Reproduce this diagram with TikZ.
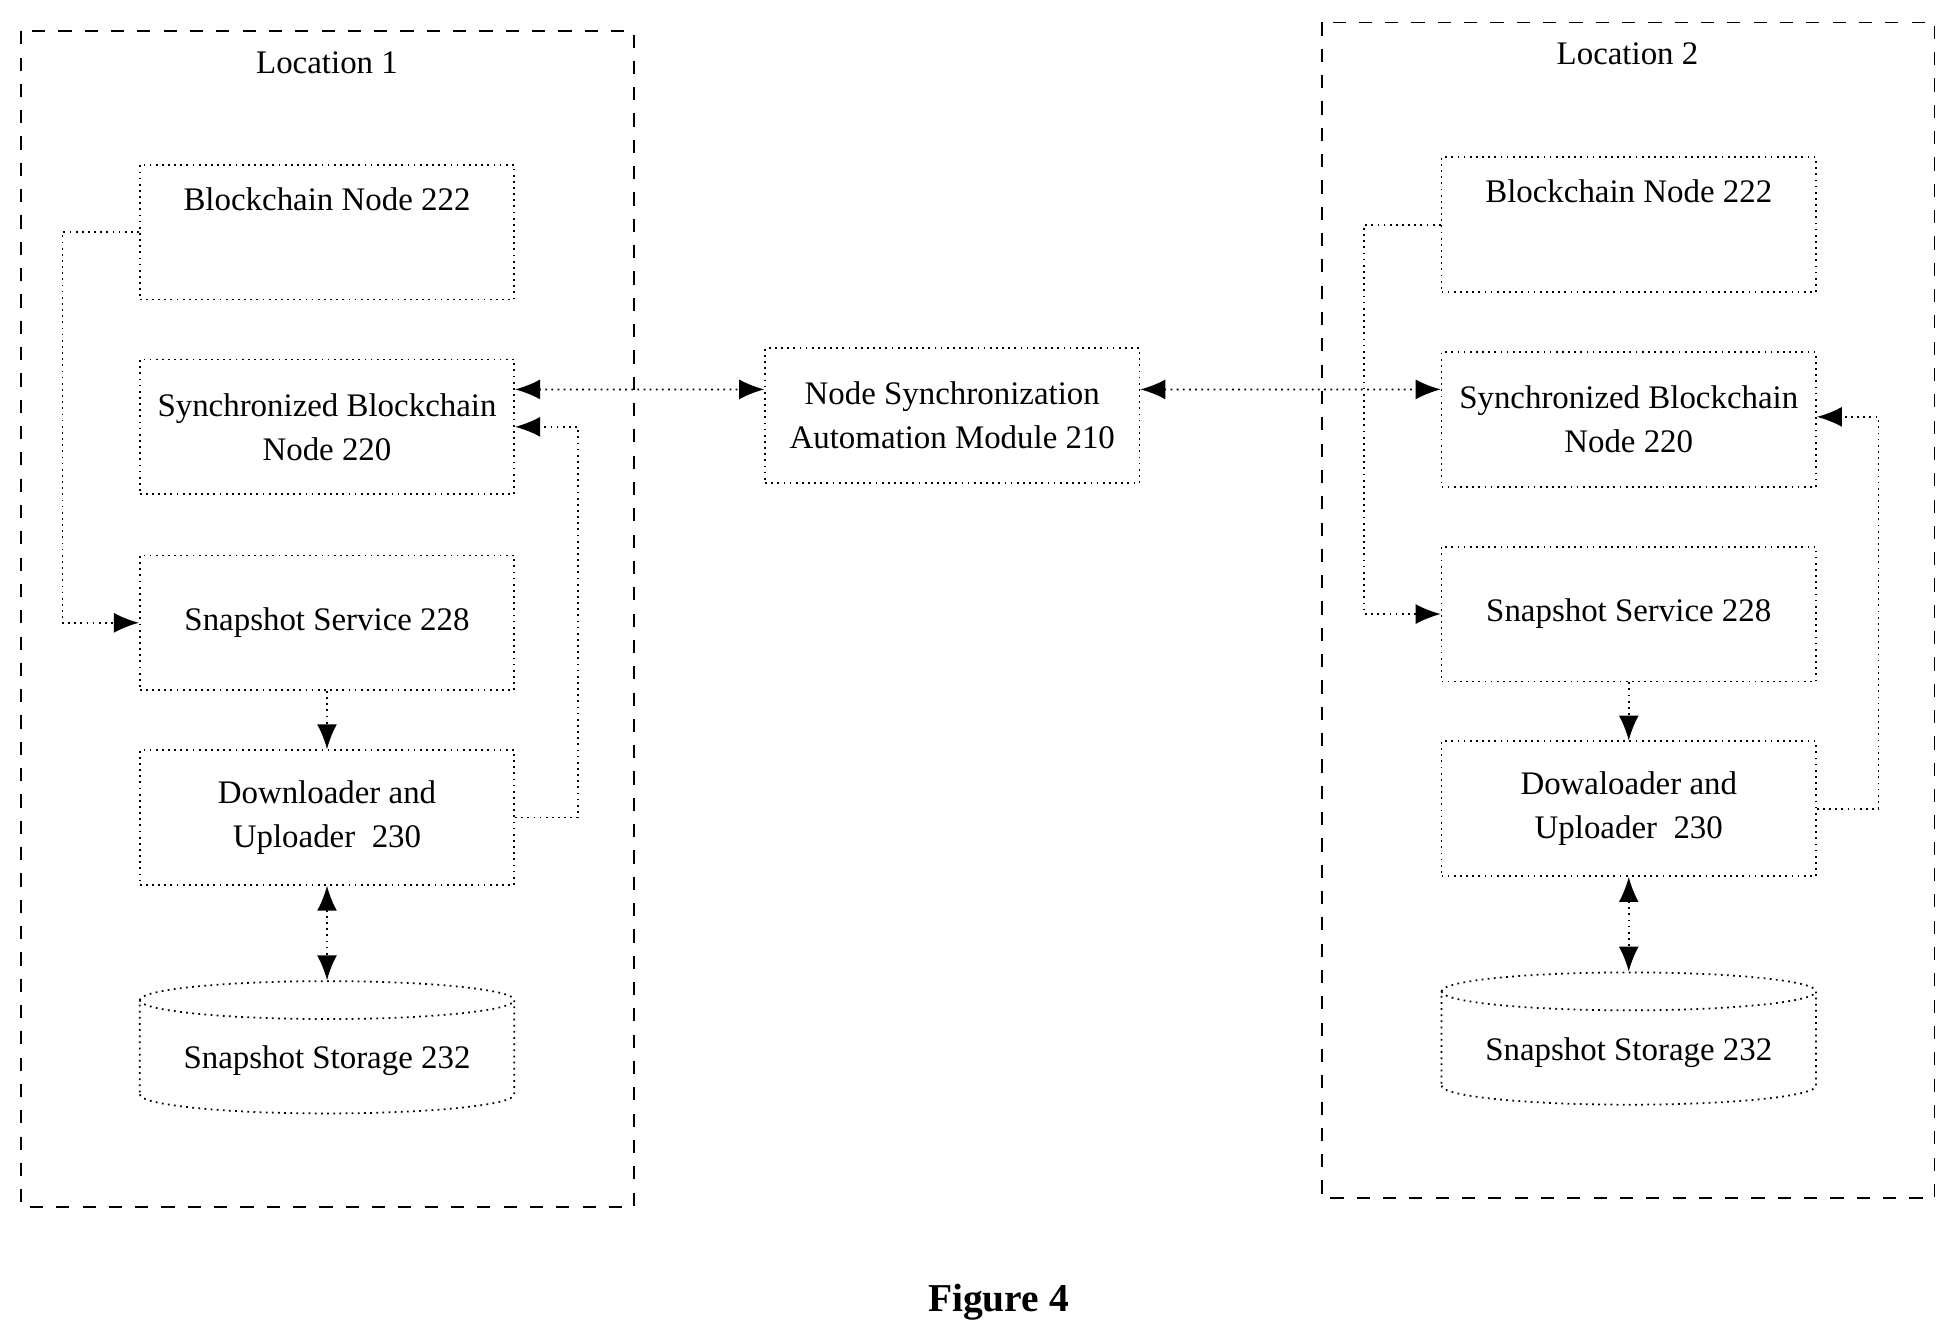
\documentclass[tikz,border=0pt]{standalone}
\usepackage{fontspec}
\setmainfont{Liberation Serif}
\usetikzlibrary{shapes.geometric,arrows.meta}

\tikzset{
  blk/.style={draw, densely dotted, minimum width=30mm, minimum height=10.8mm, align=center, inner sep=1pt},
  loc/.style={draw, dashed},
  link/.style={densely dotted, -{Latex[length=2mm,width=1.6mm]}},
  both/.style={densely dotted, {Latex[length=2mm,width=1.6mm]}-{Latex[length=2mm,width=1.6mm]}},
  store/.style={draw, densely dotted, cylinder, shape border rotate=90, aspect=0.12, minimum width=30mm, minimum height=10.6mm}
}

\begin{document}
\begin{tikzpicture}[x=0.1mm,y=-0.1mm,font=\fontsize{7.5}{10}\selectfont]
\useasboundingbox (0,0) rectangle (1560,1064);
%% location frames
\draw [loc] (17,25) rectangle (508,967);
\node (loc1) at (262,50) {Location 1};
\draw [loc] (1059,18) rectangle (1550,960);
\node (loc2) at (1304,43) {Location 2};
%% left side
\node [blk] (bn1) at (262,186) {};
\node [anchor=north] at (bn1.north) {\strut Blockchain Node 222};
\node [blk] (sync1) at (262,342) {Synchronized Blockchain\\Node 220};
\node [blk] (snap1) at (262,499) {Snapshot Service 228};
\node [blk] (dl1) at (262,655) {Downloader and\\Uploader \ 230};
\node [store] (st1) at (262,850) {Snapshot Storage 232};
%% right side
\node [blk] (bn2) at (1305,180) {};
\node [anchor=north] at (bn2.north) {\strut Blockchain Node 222};
\node [blk] (sync2) at (1305,336) {Synchronized Blockchain\\Node 220};
\node [blk] (snap2) at (1305,492) {Snapshot Service 228};
\node [blk] (dl2) at (1305,648) {Dowaloader and\\Uploader \ 230};
\node [store] (st2) at (1305,843) {Snapshot Storage 232};
%% centre
\node [blk] (sam) at (763,333) {Node Synchronization\\Automation Module 210};
\node [font=\fontsize{9}{11}\selectfont\bfseries] (fig) at (800,1043) {Figure 4};
%% connectors
\draw [both] ([yshift=3mm]sync1.east) -- ([yshift=2.1mm]sam.west);
\draw [both] ([yshift=2.1mm]sam.east) -- ([yshift=2.4mm]sync2.west);
\draw [link] (bn1.west) -- (50,186) |- (snap1.west);
\draw [link] (snap1) -- (dl1);
\draw [link] (dl1.east) -- (463,655) |- (sync1.east);
\draw [both] (dl1) -- (st1.top);
\draw [link] (bn2.west) -- (1093,180) |- (snap2.west);
\draw [link] (snap2) -- (dl2);
\draw [link] (dl2.east) -- (1505,648) |- ([yshift=0.2mm]sync2.east);
\draw [both] (dl2) -- (st2.top);
\end{tikzpicture}
\end{document}
